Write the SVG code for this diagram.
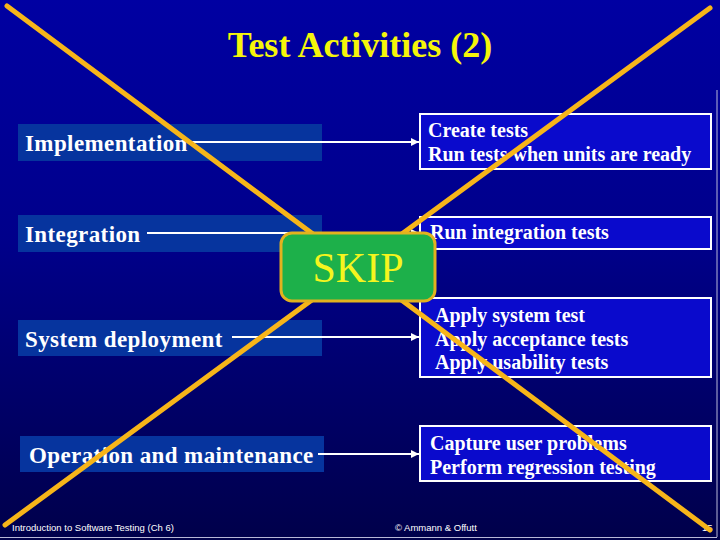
<svg xmlns="http://www.w3.org/2000/svg" width="720" height="540" viewBox="0 0 720 540">
  <defs>
    <linearGradient id="bg" x1="0" y1="0" x2="0" y2="1">
      <stop offset="0" stop-color="#0000A2"/>
      <stop offset="0.45" stop-color="#00008A"/>
      <stop offset="1" stop-color="#00004A"/>
    </linearGradient>
    <marker id="arr" viewBox="0 0 10 10" refX="10" refY="5" markerWidth="4" markerHeight="4" orient="auto" markerUnits="strokeWidth">
      <path d="M0,0 L10,5 L0,10 Z" fill="#FFFFFF"/>
    </marker>
    <style>
      .lbox { fill: #06349E; }
      .rbox { fill: #0A0ACC; stroke: #FFFFFF; stroke-width: 2; }
      .ltxt { font-family: "Liberation Serif", "Times New Roman", serif; font-weight: bold; font-size: 23px; fill: #FFFFFF; letter-spacing: 0.4px; }
      .rtxt { font-family: "Liberation Serif", "Times New Roman", serif; font-weight: bold; font-size: 20px; fill: #FFFFFF; }
      .conn { stroke: #FFFFFF; stroke-width: 2; fill: none; }
      .xline { stroke: #F7B519; stroke-width: 5; stroke-linecap: round; }
      .foot { font-family: "Liberation Sans", Arial, sans-serif; font-size: 9.5px; fill: #FFFFFF; }
    </style>
  </defs>

  <rect x="0" y="0" width="720" height="540" fill="url(#bg)"/>
  <line x1="717" y1="90" x2="717" y2="537" stroke="#B8B8D8" stroke-width="1"/>
  <line x1="0" y1="537.5" x2="717" y2="537.5" stroke="#B8B8D8" stroke-width="1"/>

  <text x="360" y="57" text-anchor="middle" font-family="'Liberation Serif', 'Times New Roman', serif" font-weight="bold" font-size="36" fill="#F5F50A">Test Activities (2)</text>

  <g id="implementation">
    <rect class="lbox" x="18" y="124" width="304" height="37"/>
    <text class="ltxt" x="25" y="151">Implementation</text>
  </g>
  <g id="integration">
    <rect class="lbox" x="18" y="215" width="304" height="37"/>
    <text class="ltxt" x="25" y="242">Integration</text>
  </g>
  <g id="system-deployment">
    <rect class="lbox" x="18" y="320" width="304" height="36"/>
    <text class="ltxt" x="25" y="347">System deployment</text>
  </g>
  <g id="operation">
    <rect class="lbox" x="20" y="436" width="304" height="36"/>
    <text class="ltxt" x="29" y="463">Operation and maintenance</text>
  </g>

  <g id="create-tests">
    <rect class="rbox" x="420" y="114" width="291" height="55"/>
    <text class="rtxt" x="428" y="137">Create tests</text>
    <text class="rtxt" x="428" y="161">Run tests when units are ready</text>
  </g>
  <g id="run-integration">
    <rect class="rbox" x="420" y="217" width="291" height="32"/>
    <text class="rtxt" x="430" y="239">Run integration tests</text>
  </g>
  <g id="apply-tests">
    <rect class="rbox" x="420" y="298" width="291" height="79"/>
    <text class="rtxt" x="435" y="322">Apply system test</text>
    <text class="rtxt" x="435" y="346">Apply acceptance tests</text>
    <text class="rtxt" x="435" y="369">Apply usability tests</text>
  </g>
  <g id="capture">
    <rect class="rbox" x="420" y="426" width="291" height="55"/>
    <text class="rtxt" x="430" y="450">Capture user problems</text>
    <text class="rtxt" x="430" y="474">Perform regression testing</text>
  </g>

  <g id="connectors">
    <line class="conn" x1="192" y1="142" x2="419" y2="142" marker-end="url(#arr)"/>
    <line class="conn" x1="147" y1="233" x2="419" y2="233" marker-end="url(#arr)"/>
    <line class="conn" x1="232" y1="337" x2="419" y2="337" marker-end="url(#arr)"/>
    <line class="conn" x1="318" y1="454" x2="419" y2="454" marker-end="url(#arr)"/>
  </g>

  <text class="foot" x="12" y="531">Introduction to Software Testing  (Ch 6)</text>
  <text class="foot" x="395" y="531">© Ammann &amp; Offutt</text>
  <text class="foot" x="702" y="531">15</text>

  <g id="cross">
    <line class="xline" x1="7" y1="6" x2="710" y2="530"/>
    <line class="xline" x1="710" y1="8" x2="5" y2="525"/>
  </g>

  <g id="skip">
    <rect x="281" y="233" width="154" height="68" rx="11" ry="11" fill="#1DB04A" stroke="#E2B21E" stroke-width="3"/>
    <text x="358" y="282" text-anchor="middle" font-family="'Liberation Serif', 'Times New Roman', serif" font-size="42" fill="#F5F51E">SKIP</text>
  </g>
</svg>
